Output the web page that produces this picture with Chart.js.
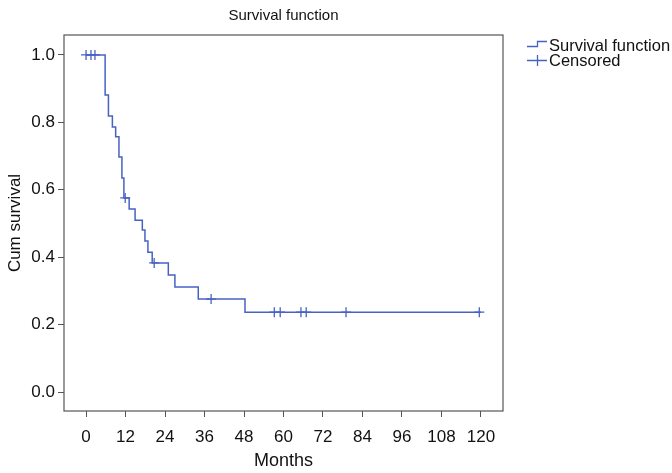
<!DOCTYPE html>
<html>
<head>
<meta charset="utf-8">
<script src="https://cdn.jsdelivr.net/npm/chart.js@4.4.1/dist/chart.umd.min.js"></script>
<style>
    html, body { margin: 0; padding: 0; background: #ffffff; }
    #wrap { width: 672px; height: 473px; }
</style>
</head>
<body>
<div id="wrap"><canvas id="km_chart" width="672" height="473"></canvas></div>
<script>
// Kaplan-Meier steps (time in months, cumulative survival after the event)
const survTimes = [0, 5.8, 6.8, 8.0, 9.0, 10.0, 10.9, 11.5, 13.1, 14.9, 17.1, 17.9, 18.8, 20.1, 25.0, 27.0, 34.1, 48.3, 120];
const survValues = [1.0, 0.881, 0.819, 0.786, 0.757, 0.697, 0.635, 0.576, 0.543, 0.510, 0.481, 0.448, 0.415, 0.383, 0.347, 0.312, 0.276, 0.237, 0.237];

// Censored observations
const censorTimes = [0, 1.5, 2.7, 11.9, 20.7, 38.0, 57.2, 59.0, 65.3, 66.9, 79.0, 119.5];
const censorValues = [1.0, 1.0, 1.0, 0.576, 0.383, 0.276, 0.237, 0.237, 0.237, 0.237, 0.237, 0.237];

// Axis ticks
const xTicks = [0, 12, 24, 36, 48, 60, 72, 84, 96, 108, 120];
const yTicks = [0, 0.2, 0.4, 0.6, 0.8, 1.0];

const lineColor = "#4862c4";
const frameColor = "#555555";
const fontFamily = "'Liberation Sans', Arial, Helvetica, sans-serif";

// small step icon for the legend
function stepIcon() {
    var c = document.createElement("canvas");
    c.width = 22; c.height = 10;
    var g = c.getContext("2d");
    g.strokeStyle = lineColor;
    g.lineWidth = 1.3;
    g.beginPath();
    g.moveTo(1, 7.5);
    g.lineTo(11.5, 7.5);
    g.lineTo(11.5, 2.5);
    g.lineTo(21, 2.5);
    g.stroke();
    return c;
}

// frame around the plot + legend at top right
const framePlugin = {
    id: "frame",
    afterDraw(chart) {
        const ctx = chart.ctx;
        const a = chart.chartArea;
        ctx.save();
        ctx.strokeStyle = frameColor;
        ctx.lineWidth = 1.2;
        ctx.strokeRect(a.left, a.top, a.right - a.left, a.bottom - a.top);

        ctx.font = "16.5px " + fontFamily;
        ctx.fillStyle = "#111111";
        ctx.textBaseline = "middle";
        ctx.textAlign = "left";
        ctx.drawImage(stepIcon(), 526, 39);
        ctx.fillText(chart.data.datasets[0].label, 549, 46);

        ctx.strokeStyle = lineColor;
        ctx.lineWidth = 1.3;
        ctx.beginPath();
        ctx.moveTo(527, 60.5); ctx.lineTo(547, 60.5);
        ctx.moveTo(537.5, 55); ctx.lineTo(537.5, 66);
        ctx.stroke();
        ctx.fillText(chart.data.datasets[1].label, 549, 61);
        ctx.restore();
    }
};

var ctxKm = document.getElementById("km_chart").getContext("2d");

new Chart(ctxKm, {
    type: "line",
    data: {
        datasets: [
            {
                label: "Survival function",
                data: survTimes.map((t, i) => ({ x: t, y: survValues[i] })),
                borderColor: lineColor,
                borderWidth: 1.5,
                stepped: "before",
                pointRadius: 0,
                fill: false,
            },
            {
                label: "Censored",
                type: "scatter",
                data: censorTimes.map((t, i) => ({ x: t, y: censorValues[i] })),
                borderColor: lineColor,
                backgroundColor: lineColor,
                pointStyle: "cross",
                pointRadius: 5,
                pointBorderWidth: 1.3,
                showLine: false,
            },
        ],
    },
    options: {
        responsive: false,
        animation: false,
        events: [],
        layout: {
            padding: { left: 0, right: 169, top: 0, bottom: 0 },
        },
        plugins: {
            legend: { display: false },
            tooltip: { enabled: false },
            title: {
                display: true,
                text: "Survival function",
                fullSize: false,
                color: "#111111",
                font: { family: fontFamily, size: 15, weight: "normal" },
                padding: { top: 7, bottom: 10 },
            },
        },
        scales: {
            x: {
                type: "linear",
                min: -6.7,
                max: 126.7,
                afterBuildTicks: (scale) => {
                    scale.ticks = xTicks.map((v) => ({ value: v }));
                },
                afterFit: (scale) => {
                    scale.height = 62;
                },
                border: { display: false },
                grid: {
                    display: true,
                    drawOnChartArea: false,
                    drawTicks: true,
                    tickLength: 6,
                    color: frameColor,
                },
                ticks: {
                    color: "#111111",
                    padding: 10,
                    maxRotation: 0,
                    font: { family: fontFamily, size: 17 },
                },
                title: {
                    display: true,
                    text: "Months",
                    color: "#111111",
                    font: { family: fontFamily, size: 18 },
                    padding: { top: 0, bottom: 1 },
                },
            },
            y: {
                type: "linear",
                min: -0.056,
                max: 1.059,
                afterBuildTicks: (scale) => {
                    scale.ticks = yTicks.map((v) => ({ value: v }));
                },
                afterFit: (scale) => {
                    scale.width = 64;
                },
                border: { display: false },
                grid: {
                    display: true,
                    drawOnChartArea: false,
                    drawTicks: true,
                    tickLength: 6,
                    color: frameColor,
                },
                ticks: {
                    color: "#111111",
                    padding: 3,
                    font: { family: fontFamily, size: 17 },
                    callback: (value) => Number(value).toFixed(1),
                },
                title: {
                    display: true,
                    text: "Cum survival",
                    color: "#111111",
                    font: { family: fontFamily, size: 17 },
                    padding: { top: 5, bottom: 0 },
                },
            },
        },
    },
    plugins: [framePlugin],
});
</script>
</body>
</html>
